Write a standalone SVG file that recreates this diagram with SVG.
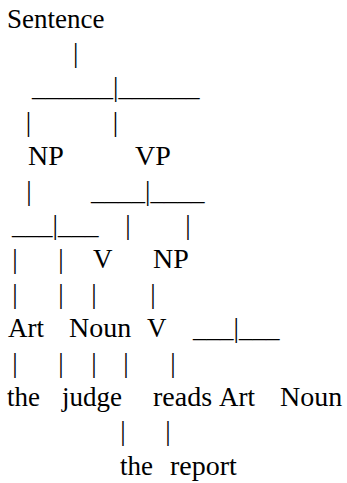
<svg xmlns="http://www.w3.org/2000/svg" width="347" height="483" viewBox="0 0 347 483">
<rect width="347" height="483" fill="#ffffff"/>
<text id="n-sentence" x="7" y="27.5" font-family="Liberation Serif" font-size="27">Sentence</text>
<text id="n-np1" x="28" y="165.1" font-family="Liberation Serif" font-size="28">NP</text>
<text id="n-vp" x="135" y="165.1" font-family="Liberation Serif" font-size="28">VP</text>
<text id="n-v1" x="93" y="268.3" font-family="Liberation Serif" font-size="27">V</text>
<text id="n-np2" x="153" y="268.3" font-family="Liberation Serif" font-size="28">NP</text>
<text id="n-art1" x="8" y="337.1" font-family="Liberation Serif" font-size="27">Art</text>
<text id="n-noun1" x="69" y="337.1" font-family="Liberation Serif" font-size="28">Noun</text>
<text id="n-v2" x="147" y="337.1" font-family="Liberation Serif" font-size="27">V</text>
<text id="n-the1" x="7" y="405.9" font-family="Liberation Serif" font-size="27">the</text>
<text id="n-judge" x="62" y="405.9" font-family="Liberation Serif" font-size="27">judge</text>
<text id="n-reads" x="153" y="405.9" font-family="Liberation Serif" font-size="28">reads</text>
<text id="n-art2" x="219" y="405.9" font-family="Liberation Serif" font-size="27">Art</text>
<text id="n-noun2" x="280" y="405.9" font-family="Liberation Serif" font-size="28">Noun</text>
<text id="n-the2" x="120" y="474.7" font-family="Liberation Serif" font-size="27">the</text>
<text id="n-report" x="170" y="474.7" font-family="Liberation Serif" font-size="28">report</text>
<g id="connectors">
<text x="73" y="61.9" font-family="Liberation Serif" font-size="27">|</text>
<text x="25.8" y="130.7" font-family="Liberation Serif" font-size="27">|</text>
<text x="112.8" y="130.7" font-family="Liberation Serif" font-size="27">|</text>
<text x="26.3" y="199.5" font-family="Liberation Serif" font-size="27">|</text>
<text x="125.3" y="233.9" font-family="Liberation Serif" font-size="27">|</text>
<text x="185.3" y="233.9" font-family="Liberation Serif" font-size="27">|</text>
<text x="12.3" y="268.3" font-family="Liberation Serif" font-size="27">|</text>
<text x="58.3" y="268.3" font-family="Liberation Serif" font-size="27">|</text>
<text x="12.3" y="302.7" font-family="Liberation Serif" font-size="27">|</text>
<text x="58.3" y="302.7" font-family="Liberation Serif" font-size="27">|</text>
<text x="91.3" y="302.7" font-family="Liberation Serif" font-size="27">|</text>
<text x="150.3" y="302.7" font-family="Liberation Serif" font-size="27">|</text>
<text x="12.3" y="371.5" font-family="Liberation Serif" font-size="27">|</text>
<text x="58.3" y="371.5" font-family="Liberation Serif" font-size="27">|</text>
<text x="91.3" y="371.5" font-family="Liberation Serif" font-size="27">|</text>
<text x="123.3" y="371.5" font-family="Liberation Serif" font-size="27">|</text>
<text x="170.3" y="371.5" font-family="Liberation Serif" font-size="27">|</text>
<text x="120.3" y="440.3" font-family="Liberation Serif" font-size="27">|</text>
<text x="165.3" y="440.3" font-family="Liberation Serif" font-size="27">|</text>
<text x="32" y="96.3" font-family="Liberation Serif" font-size="27">______|______</text>
<text x="91" y="199.5" font-family="Liberation Serif" font-size="27">____|____</text>
<text x="12" y="233.9" font-family="Liberation Serif" font-size="27">___|___</text>
<text x="193" y="337.1" font-family="Liberation Serif" font-size="27">___|___</text>
</g>
</svg>
